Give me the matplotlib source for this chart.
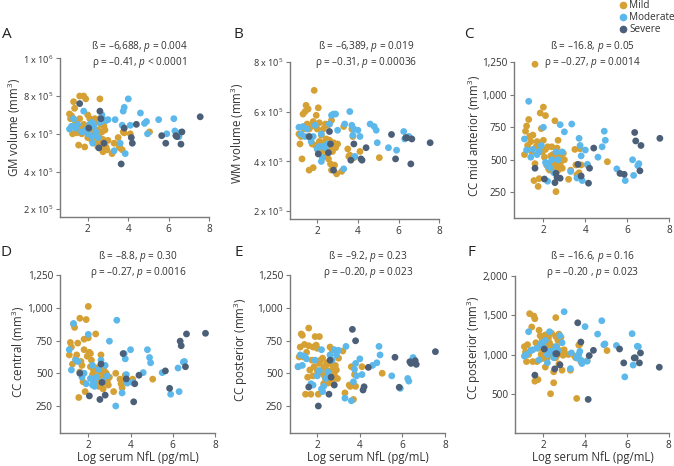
import matplotlib
matplotlib.use("Agg")
import matplotlib.pyplot as plt

plt.rcParams['font.family'] = ['Open Sans', 'DejaVu Sans']
plt.rcParams['mathtext.fontset'] = 'custom'
plt.rcParams['mathtext.rm'] = 'Open Sans'
plt.rcParams['mathtext.it'] = 'Open Sans:italic'

# ---------------- data ----------------
groups = ["Mild", "Moderate", "Severe"]
colors = {"Mild": "#D5A034", "Moderate": "#5CB8EA", "Severe": "#4B5F78"}

mild_x = [1.10, 1.15, 1.20, 1.25, 1.30, 1.35, 1.40, 1.45, 1.50, 1.55,
          1.60, 1.60, 1.65, 1.70, 1.75, 1.80, 1.80, 1.85, 1.90, 1.95,
          2.00, 2.00, 2.05, 2.10, 2.10, 2.15, 2.20, 2.25, 2.30, 2.30,
          2.35, 2.40, 2.40, 2.45, 2.50, 2.50, 2.55, 2.60, 2.60, 2.60,
          2.65, 2.70, 2.70, 2.75, 2.75, 2.80, 2.85, 2.90, 2.95, 3.00,
          3.20, 3.30, 3.50, 3.55, 3.60, 3.70, 3.75, 3.80, 4.10, 5.05]
moderate_x = [1.1, 1.2, 1.3, 1.4, 1.5, 1.7, 1.8, 1.9, 2.0, 2.1,
              2.2, 2.2, 2.25, 2.3, 2.4, 2.5, 2.6, 2.7, 2.8, 2.9,
              3.0, 3.3, 3.35, 3.6, 3.7, 3.75, 3.8, 3.85, 4.0, 4.1,
              4.6, 4.8, 4.9, 4.95, 5.5, 5.9, 6.25, 6.3, 6.5, 6.55]
severe_x = [1.6, 2.05, 2.55, 2.6, 2.65, 2.8, 3.65, 3.8, 4.15, 4.2,
            4.4, 5.65, 5.85, 6.35, 6.4, 6.6, 6.65, 7.55]

# Panel A: GM volume
gm_mild = [7.05e5, 6.8e5, 6.95e5, 6.0e5, 7.7e5, 7.35e5, 6.6e5, 6.05e5, 6.1e5, 5.4e5,
           8.0e5, 6.8e5, 6.25e5, 6.0e5, 6.2e5, 8.0e5, 6.5e5, 5.3e5, 7.85e5, 6.4e5,
           7.0e5, 5.8e5, 6.05e5, 6.8e5, 6.3e5, 6.15e5, 5.65e5, 6.3e5, 6.75e5, 6.0e5,
           6.8e5, 5.85e5, 6.6e5, 5.5e5, 6.2e5, 5.3e5, 5.9e5, 7.85e5, 6.8e5, 5.65e5,
           6.5e5, 5.4e5, 6.1e5, 5.05e5, 5.7e5, 6.4e5, 6.2e5, 5.3e5, 5.15e5, 5.65e5,
           4.95e5, 5.5e5, 5.8e5, 5.3e5, 5.25e5, 5.15e5, 6.1e5, 6.05e5, 6.0e5, 6.1e5]
gm_moderate = [6.25e5, 6.4e5, 6.8e5, 6.3e5, 6.5e5, 6.1e5, 7.2e5, 6.2e5, 6.0e5, 6.5e5,
               6.6e5, 5.85e5, 5.5e5, 6.4e5, 6.1e5, 5.8e5, 6.6e5, 7.0e5, 6.75e5, 6.7e5,
               6.75e5, 5.1e5, 6.75e5, 5.5e5, 6.45e5, 7.2e5, 7.4e5, 4.95e5, 7.85e5, 6.45e5,
               7.1e5, 6.55e5, 6.65e5, 6.0e5, 6.75e5, 6.0e5, 6.8e5, 6.15e5, 5.85e5, 6.05e5]
gm_severe = [7.6e5, 6.3e5, 5.25e5, 7.2e5, 6.8e5, 5.5e5, 4.4e5, 6.3e5, 5.8e5, 5.5e5,
             6.5e5, 5.9e5, 5.5e5, 5.9e5, 5.85e5, 5.45e5, 6.1e5, 6.9e5]

# Panel B: WM volume
wm_mild = [5.1e5, 4.7e5, 5.0e5, 4.1e5, 5.9e5, 5.3e5, 6.0e5, 6.25e5, 5.5e5, 6.1e5,
           3.65e5, 5.3e5, 4.95e5, 5.4e5, 4.7e5, 3.75e5, 5.6e5, 6.85e5, 4.65e5, 5.85e5,
           4.5e5, 5.3e5, 6.15e5, 4.8e5, 5.55e5, 4.4e5, 5.05e5, 4.75e5, 4.45e5, 5.3e5,
           4.6e5, 5.5e5, 4.2e5, 4.9e5, 4.7e5, 5.45e5, 4.1e5, 5.5e5, 4.5e5, 4.85e5,
           3.9e5, 5.65e5, 3.65e5, 4.6e5, 4.4e5, 4.75e5, 3.85e5, 4.55e5, 3.5e5, 4.7e5,
           3.6e5, 5.4e5, 4.5e5, 4.2e5, 4.25e5, 5.3e5, 5.0e5, 4.15e5, 4.4e5, 4.15e5]
wm_moderate = [5.37e5, 5.1e5, 5.4e5, 5.0e5, 5.3e5, 4.8e5, 5.0e5, 5.45e5, 4.5e5, 4.6e5,
               5.1e5, 4.0e5, 4.15e5, 4.6e5, 4.55e5, 4.7e5, 5.5e5, 5.85e5, 5.9e5, 5.9e5,
               5.25e5, 3.7e5, 5.5e5, 6.0e5, 5.45e5, 5.05e5, 5.3e5, 4.2e5, 5.25e5, 5.0e5,
               5.5e5, 5.4e5, 5.25e5, 4.75e5, 4.55e5, 4.45e5, 5.2e5, 4.9e5, 5.0e5, 4.95e5]
wm_severe = [5.0e5, 4.3e5, 4.35e5, 5.2e5, 4.7e5, 3.65e5, 4.05e5, 4.7e5, 4.1e5, 4.05e5,
             4.55e5, 5.08e5, 4.1e5, 4.95e5, 4.95e5, 3.9e5, 4.9e5, 4.75e5]

# Panel C: CC mid anterior
cma_mild = [540, 720, 760, 610, 810, 680, 640, 560, 690, 340,
            1235, 470, 600, 640, 295, 620, 355, 860, 740, 560,
            905, 650, 520, 840, 580, 460, 600, 430, 470, 420,
            530, 440, 600, 540, 470, 410, 800, 255, 500, 450,
            590, 650, 420, 480, 530, 470, 510, 435, 550, 500,
            350, 420, 580, 460, 385, 400, 585, 460, 460, 485]
cma_moderate = [660, 575, 950, 520, 580, 540, 565, 610, 750, 480,
                455, 335, 470, 440, 500, 400, 560, 500, 770, 560,
                715, 410, 775, 360, 665, 610, 530, 340, 575, 465,
                520, 600, 720, 650, 430, 340, 500, 380, 455, 470]
cma_severe = [435, 352, 324, 396, 365, 358, 465, 375, 320, 435,
              590, 395, 388, 710, 645, 415, 610, 665]

# Panel D: CC central
ccc_mild = [640, 735, 700, 570, 875, 850, 610, 640, 730, 315,
            920, 510, 590, 560, 435, 680, 760, 360, 910, 630,
            1010, 770, 660, 650, 550, 600, 490, 520, 470, 430,
            800, 475, 540, 440, 400, 520, 410, 640, 510, 560,
            450, 470, 380, 460, 520, 430, 500, 440, 410, 470,
            360, 500, 455, 420, 390, 440, 485, 430, 455, 455]
ccc_moderate = [680, 525, 880, 600, 590, 470, 500, 420, 797, 460,
                560, 410, 430, 400, 470, 530, 600, 440, 560, 480,
                745, 250, 905, 350, 650, 610, 490, 425, 680, 430,
                505, 680, 620, 580, 505, 340, 540, 360, 585, 590]
ccc_severe = [500, 327, 300, 570, 430, 333, 650, 457, 282, 420,
              485, 518, 385, 745, 710, 550, 800, 805]

# Panel E: CC posterior
ccp_mild = [550, 625, 700, 800, 790, 625, 720, 340, 660, 470,
            845, 710, 525, 340, 600, 700, 480, 550, 780, 715,
            690, 520, 340, 780, 575, 600, 500, 615, 540, 420,
            475, 560, 450, 580, 520, 425, 490, 700, 575, 440,
            510, 680, 460, 545, 420, 490, 560, 525, 460, 615,
            670, 350, 410, 400, 550, 300, 490, 400, 550, 500]
ccp_moderate = [550, 640, 560, 630, 610, 420, 410, 600, 480, 520,
                680, 380, 360, 400, 460, 510, 640, 600, 680, 640,
                675, 310, 705, 290, 435, 530, 575, 480, 610, 490,
                560, 580, 705, 640, 480, 385, 460, 440, 620, 600]
ccp_severe = [395, 250, 340, 600, 470, 410, 835, 748, 372, 397,
              545, 622, 393, 588, 575, 596, 568, 665]

# Panel F: CC posterior
ccp2_mild = [1100, 1030, 910, 1125, 1000, 1520, 1050, 1350, 910, 1490,
             1455, 660, 1150, 910, 680, 1080, 1310, 1240, 1000, 1200,
             1170, 950, 1060, 1250, 840, 1120, 960, 1210, 1050, 1150,
             500, 1000, 1270, 1100, 640, 780, 1020, 1470, 1230, 960,
             1100, 1000, 1180, 1260, 880, 1050, 1220, 800, 990, 1060,
             1000, 800, 980, 960, 440, 1120, 1130, 910, 920, 1050]
ccp2_moderate = [980, 1000, 1290, 1050, 1060, 1080, 930, 1140, 1100, 1180,
                 895, 1000, 1040, 1290, 1040, 960, 1100, 1050, 1240, 1150,
                 1545, 820, 1020, 955, 1000, 1040, 930, 885, 1355, 915,
                 1260, 1430, 1125, 1135, 1115, 715, 1265, 865, 1105, 1100]
ccp2_severe = [737, 1070, 817, 1010, 1010, 868, 1404, 1159, 428, 986,
               1053, 1070, 893, 957, 957, 893, 1020, 838]

panel_letters = ["A", "B", "C", "D", "E", "F"]
ylabels = ["GM volume (mm$^3$)", "WM volume (mm$^3$)", "CC mid anterior (mm$^3$)",
           "CC central (mm$^3$)", "CC posterior (mm$^3$)", "CC posterior (mm$^3$)"]
stat1 = ["ß = –6,688, $p$ = 0.004", "ß = –6,389, $p$ = 0.019", "ß = –16.8, $p$ = 0.05",
         "ß = –8.8, $p$ = 0.30", "ß = –9.2, $p$ = 0.23", "ß = –16.6, $p$ = 0.16"]
stat2 = ["ρ = –0.41, $p$ < 0.0001", "ρ = –0.31, $p$ = 0.00036", "ρ = –0.27, $p$ = 0.0014",
         "ρ = –0.27, $p$ = 0.0016", "ρ = –0.20, $p$ = 0.023", "ρ = –0.20 , $p$ = 0.023"]
yticks_list = [[2e5, 4e5, 6e5, 8e5, 1e6], [2e5, 4e5, 6e5, 8e5],
               [250, 500, 750, 1000, 1250], [250, 500, 750, 1000, 1250],
               [250, 500, 750, 1000, 1250], [500, 1000, 1500, 2000]]
yticklabels_list = [["2 x 10$^5$", "4 x 10$^5$", "6 x 10$^5$", "8 x 10$^5$", "1 x 10$^6$"],
                    ["2 x 10$^5$", "4 x 10$^5$", "6 x 10$^5$", "8 x 10$^5$"],
                    ["250", "500", "750", "1,000", "1,250"],
                    ["250", "500", "750", "1,000", "1,250"],
                    ["250", "500", "750", "1,000", "1,250"],
                    ["500", "1,000", "1,500", "2,000"]]
xticks = [2, 4, 6, 8]
xlabel = "Log serum NfL (pg/mL)"

panel_data = [
    (gm_mild, gm_moderate, gm_severe),
    (wm_mild, wm_moderate, wm_severe),
    (cma_mild, cma_moderate, cma_severe),
    (ccc_mild, ccc_moderate, ccc_severe),
    (ccp_mild, ccp_moderate, ccp_severe),
    (ccp2_mild, ccp2_moderate, ccp2_severe),
]

# ---------------- layout (pixels) ----------------
W, H = 674, 466
fig = plt.figure(figsize=(W / 100, H / 100), dpi=100)

def fx(x):
    return x / W

def fy(y):
    return 1 - y / H

# left, right, top, bottom in pixels
boxes = [(60, 209.3, 58.3, 217), (290, 439.3, 61.7, 219), (514, 669.3, 62.3, 218),
         (60, 215, 275, 433), (290, 445, 275, 433), (515, 668.7, 276, 433)]
xlims = [(0.63, 8), (0.66, 8), (0.60, 8), (0.66, 8), (0.72, 8), (0.65, 8)]
ylims = [(1.59e5, 1e6), (1.69e5, 8e5), (52, 1250), (44, 1250), (44, 1250), (0, 2000)]
letter_pos = [(7, 34), (238, 34), (469, 34), (6, 253), (239, 253), (471, 253)]
stat_pos = [(139, 47, 62), (366, 47, 62), (592, 47, 63),
            (138, 257, 273), (368, 257, 273), (593, 257, 273)]
ylab_pos = [(14, 127), (237, 133), (474, 136), (18, 352), (241, 350), (474, 348)]
xlab_pos = [(138, 458), (368, 458), (593, 458)]

spine_c = "#7a7a7a"
text_c = "#333333"
xs = [mild_x, moderate_x, severe_x]

for i in range(6):
    l, r, t, b = boxes[i]
    ax = fig.add_axes([fx(l), fy(b), (r - l) / W, (b - t) / H])
    for g, xv, yv in zip(groups, xs, panel_data[i]):
        ax.scatter(xv, yv, s=24, color=colors[g], edgecolors='none', zorder=3, clip_on=False)
    ax.set_xlim(*xlims[i])
    ax.set_ylim(*ylims[i])
    ax.set_xticks(xticks)
    ax.set_xticklabels([str(v) for v in xticks])
    ax.set_yticks(yticks_list[i])
    ax.set_yticklabels(yticklabels_list[i])
    for s in ["top", "right"]:
        ax.spines[s].set_visible(False)
    for s in ["left", "bottom"]:
        ax.spines[s].set_color(spine_c)
        ax.spines[s].set_linewidth(1.0)
    ax.tick_params(axis='both', direction='out', length=3, width=0.8, color=spine_c,
                   labelsize=7.2, labelcolor=text_c, pad=2)
    if i == 0 or i == 1:
        ax.tick_params(axis='y', labelsize=6.6, pad=1.5)
    ax.set_facecolor('none')

    fig.text(fx(letter_pos[i][0]), fy(letter_pos[i][1]), panel_letters[i],
             fontsize=11, color="#222222", ha='center', va='center')
    sx, sy1, sy2 = stat_pos[i]
    fig.text(fx(sx), fy(sy1), stat1[i], fontsize=7.2, color=text_c, ha='center', va='center')
    fig.text(fx(sx), fy(sy2), stat2[i], fontsize=7.2, color=text_c, ha='center', va='center')
    fig.text(fx(ylab_pos[i][0]), fy(ylab_pos[i][1]), ylabels[i], fontsize=8.3,
             color=text_c, rotation=90, ha='center', va='center')

for (x, y) in xlab_pos:
    fig.text(fx(x), fy(y), xlabel, fontsize=8.3, color=text_c, ha='center', va='center')

# legend
leg_y = [5, 17, 29]
for g, yy in zip(groups, leg_y):
    fig.add_artist(plt.Line2D([fx(623)], [fy(yy)], marker='o', markersize=4.5,
                              color=colors[g], linestyle='none', transform=fig.transFigure))
    fig.text(fx(629), fy(yy), g, fontsize=7.2, color=text_c, ha='left', va='center')

fig.savefig("out.png", dpi=100)
